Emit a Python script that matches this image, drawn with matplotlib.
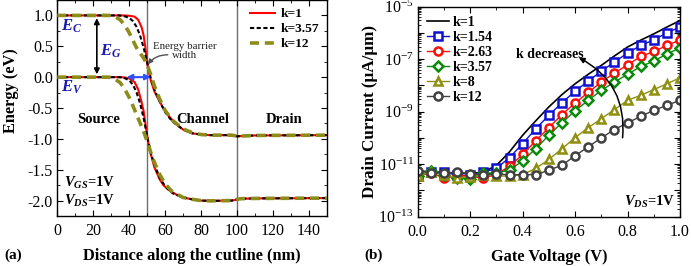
import numpy as np
import matplotlib
matplotlib.use('Agg')
import matplotlib.pyplot as plt
from matplotlib.ticker import MultipleLocator, FixedLocator, FuncFormatter

plt.rcParams['font.family'] = ['Liberation Serif', 'DejaVu Serif']
plt.rcParams['mathtext.fontset'] = 'custom'
plt.rcParams['mathtext.rm'] = 'Liberation Serif'
plt.rcParams['mathtext.it'] = 'Liberation Serif:italic:bold'
plt.rcParams['mathtext.bf'] = 'Liberation Serif:bold'

# ---- panel (a): band diagram along the cutline ----
x_k1 = [0, 36, 40, 43, 45, 47, 48, 49, 50, 51, 52, 54, 57, 59, 62, 66, 70, 75, 80, 85, 97, 99, 100, 102, 110, 150]
ec_k1 = [1.0, 1.0, 0.995, 0.98, 0.93, 0.8, 0.68, 0.48, 0.23, 0.07, -0.05, -0.23, -0.4, -0.5, -0.63, -0.76, -0.85, -0.91, -0.93, -0.94, -0.94, -0.95, -0.96, -0.955, -0.945, -0.94]
ev_k1 = [0.0, 0.0, -0.02, -0.08, -0.2, -0.42, -0.55, -0.75, -0.95, -1.12, -1.25, -1.46, -1.66, -1.75, -1.83, -1.9, -1.95, -1.98, -2.0, -2.005, -2.0, -1.99, -1.98, -1.97, -1.965, -1.96]

x_k357 = [0, 34, 37, 40, 42, 44, 46, 48, 50, 52, 54, 57, 60, 64, 70, 75, 80, 85, 97, 99, 100, 102, 110, 150]
ec_k357 = [1.0, 1.0, 0.99, 0.96, 0.91, 0.82, 0.68, 0.48, 0.24, -0.02, -0.2, -0.4, -0.57, -0.72, -0.85, -0.91, -0.93, -0.94, -0.94, -0.95, -0.96, -0.955, -0.945, -0.94]
ev_k357 = [0.0, 0.0, -0.01, -0.05, -0.12, -0.24, -0.42, -0.66, -0.96, -1.22, -1.42, -1.63, -1.77, -1.88, -1.95, -1.98, -2.0, -2.005, -2.0, -1.99, -1.98, -1.97, -1.965, -1.96]

x_k12 = [0, 29, 32, 35, 38, 40, 42, 44, 46, 48, 50, 52, 54, 57, 60, 64, 70, 75, 80, 85, 97, 99, 100, 102, 110, 150]
ec_k12 = [1.0, 1.0, 0.98, 0.93, 0.82, 0.72, 0.6, 0.48, 0.39, 0.31, 0.2, 0.04, -0.14, -0.36, -0.54, -0.7, -0.84, -0.9, -0.93, -0.94, -0.94, -0.95, -0.96, -0.955, -0.945, -0.94]
ev_k12 = [0.0, 0.0, -0.03, -0.09, -0.22, -0.33, -0.46, -0.6, -0.74, -0.88, -1.04, -1.22, -1.38, -1.58, -1.73, -1.86, -1.95, -1.98, -2.0, -2.005, -2.0, -1.99, -1.98, -1.97, -1.965, -1.96]

# ---- panel (b): transfer characteristics (log10 of drain current, uA/um) ----
vg = [0.0, 0.05, 0.1, 0.15, 0.2, 0.25, 0.3, 0.35, 0.4, 0.45, 0.5, 0.55, 0.6, 0.65, 0.7, 0.75, 0.8, 0.85, 0.9, 0.95, 1.0]
log_id_k1 = [-11.25, -11.3, -11.33, -11.32, -11.36, -11.3, -11.05, -10.53, -9.9, -9.35, -8.82, -8.35, -7.94, -7.58, -7.24, -6.88, -6.54, -6.28, -6.04, -5.78, -5.53]
log_id_k154 = [-11.45, -11.3, -11.3, -11.42, -11.42, -11.3, -11.16, -10.75, -10.22, -9.65, -9.14, -8.66, -8.22, -7.84, -7.46, -7.11, -6.77, -6.48, -6.27, -6.0, -5.78]
log_id_k263 = [-11.45, -11.33, -11.52, -11.45, -11.45, -11.54, -11.38, -11.08, -10.63, -10.11, -9.61, -9.11, -8.67, -8.27, -7.87, -7.53, -7.22, -6.9, -6.71, -6.48, -6.27]
log_id_k357 = [-11.45, -11.25, -11.42, -11.52, -11.57, -11.35, -11.33, -11.23, -10.87, -10.41, -9.9, -9.42, -8.97, -8.57, -8.19, -7.87, -7.58, -7.28, -7.08, -6.8, -6.58]
log_id_k8 = [-11.45, -11.3, -11.4, -11.52, -11.48, -11.4, -11.45, -11.45, -11.4, -11.16, -10.82, -10.41, -9.99, -9.61, -9.27, -8.92, -8.57, -8.38, -8.16, -7.94, -7.71]
log_id_k12 = [-11.25, -11.33, -11.35, -11.3, -11.38, -11.4, -11.38, -11.4, -11.4, -11.4, -11.23, -11.04, -10.68, -10.34, -10.0, -9.68, -9.43, -9.18, -8.95, -8.76, -8.57]

olive_a = '#8c8c1a'

fig = plt.figure(figsize=(6.91, 2.66), dpi=100)
ax1 = fig.add_axes([0.0829, 0.188, 0.3903, 0.812])
ax2 = fig.add_axes([0.6045, 0.1853, 0.3796, 0.790])

fs_tick = 11.5
fs_lab = 11.8

# panel (a)
ax1.axvline(50, color='#707070', lw=1.0, zorder=1)
ax1.axvline(100, color='#707070', lw=1.0, zorder=1)
ax1.plot(x_k1, ec_k1, color='red', lw=1.5, label='k=1', zorder=3)
ax1.plot(x_k1, ev_k1, color='red', lw=1.5, zorder=3)
ax1.plot(x_k357, ec_k357, color='black', lw=1.5, ls=(0, (2, 1.2)), label='k=3.57', zorder=4)
ax1.plot(x_k357, ev_k357, color='black', lw=1.5, ls=(0, (2, 1.2)), zorder=4)
ax1.plot(x_k12, ec_k12, color=olive_a, lw=2.6, ls=(0, (2.5, 1.6)), label='k=12', zorder=5)
ax1.plot(x_k12, ev_k12, color=olive_a, lw=2.6, ls=(0, (2.5, 1.6)), zorder=5)

ax1.set_xlim(0, 150)
ax1.set_ylim(-2.25, 1.25)
ax1.xaxis.set_major_locator(MultipleLocator(20))
ax1.xaxis.set_minor_locator(MultipleLocator(10))
ax1.yaxis.set_major_locator(MultipleLocator(0.5))
ax1.yaxis.set_minor_locator(MultipleLocator(0.25))
ax1.yaxis.set_major_formatter(FuncFormatter(lambda v, p: '%.1f' % v))

ax1.annotate('', xy=(22, 0.0), xytext=(22, 1.0),
             arrowprops=dict(arrowstyle='<|-|>', color='black', lw=1.2, mutation_scale=8), zorder=6)
ax1.annotate('', xy=(37, 0.0), xytext=(53.5, 0.0),
             arrowprops=dict(arrowstyle='<|-|>', color='#3050ff', lw=1.5, mutation_scale=8), zorder=6)
ax1.annotate('', xy=(49.5, 0.17), xytext=(63, 0.36),
             arrowprops=dict(arrowstyle='-|>', color='#505050', lw=1.0, mutation_scale=7,
                             connectionstyle='arc3,rad=0.3'), zorder=6)
ax1.text(71, 0.42, 'Energy barrier\nwidth', fontsize=7.8, ha='center', va='center',
         linespacing=0.95, color='#222222')
ax1.text(2, 0.83, '$E_C$', fontsize=12, color='#1a1ab0', va='center')
ax1.text(2, -0.17, '$E_V$', fontsize=12, color='#1a1ab0', va='center')
ax1.text(24, 0.42, '$E_G$', fontsize=12, color='#1a1ab0', va='center')
ax1.text(23, -0.68, 'Source', fontsize=10.5, fontweight='bold', ha='center', va='center')
ax1.text(81, -0.68, 'Channel', fontsize=10.5, fontweight='bold', ha='center', va='center')
ax1.text(126, -0.68, 'Drain', fontsize=10.5, fontweight='bold', ha='center', va='center')
ax1.text(4, -1.72, '$V_{GS}$=1V', fontsize=10.5, fontweight='bold', va='center')
ax1.text(4, -2.0, '$V_{DS}$=1V', fontsize=10.5, fontweight='bold', va='center')

ax1.legend(loc='upper right', frameon=False, handlelength=1.9,
           handletextpad=0.4, labelspacing=0.2, borderaxespad=0.2,
           prop={'weight': 'bold', 'size': 9.6})
ax1.set_xlabel('Distance along the cutline (nm)', fontsize=fs_lab, fontweight='bold', labelpad=6.5)
ax1.set_ylabel('Energy (eV)', fontsize=fs_lab, fontweight='bold', va='center')
ax1.yaxis.set_label_coords(-0.17, 0.58)

# panel (b)
ax2.plot(vg, 10 ** np.array(log_id_k1), color='black', lw=1.2, label='k=1')
series_b = [
    (log_id_k154, '#1010d0', 's', 'k=1.54'),
    (log_id_k263, '#ff0a0a', 'o', 'k=2.63'),
    (log_id_k357, '#0a8a0a', 'D', 'k=3.57'),
    (log_id_k8, '#8f8f10', '^', 'k=8'),
    (log_id_k12, '#404040', 'o', 'k=12'),
]
for vals, col, mk, lab in series_b:
    ms = 5.0 if mk == 'D' else 5.8
    ax2.plot(vg, 10 ** np.array(vals), color=col, lw=1.0, marker=mk, ms=ms,
             mfc='white', mec=col, mew=1.8, label=lab)

ax2.set_yscale('log')
ax2.set_xlim(0, 1.0)
ax2.set_ylim(1e-13, 1e-5)
ax2.xaxis.set_major_locator(MultipleLocator(0.2))
ax2.xaxis.set_minor_locator(MultipleLocator(0.1))
ax2.xaxis.set_major_formatter(FuncFormatter(lambda v, p: '%.1f' % v))
decades = [10.0 ** e for e in range(-13, -4)]
ax2.yaxis.set_major_locator(FixedLocator(decades))
minor = [m * 10.0 ** e for e in range(-13, -5) for m in range(2, 10)]
ax2.yaxis.set_minor_locator(FixedLocator(minor))
ax2.yaxis.set_major_formatter(FuncFormatter(
    lambda v, p: ('$10^{%d}$' % round(np.log10(v))) if round(np.log10(v)) % 2 else ''))

ax2.annotate('', xy=(0.605, 10 ** -6.9), xytext=(0.78, 10 ** -10.1),
             arrowprops=dict(arrowstyle='-|>', color='black', lw=1.1, mutation_scale=8,
                             connectionstyle='arc3,rad=0.35'))
ax2.text(0.375, 10 ** -6.82, 'k decreases', fontsize=10, fontweight='bold', va='center')
ax2.text(0.98, 10 ** -12.45, '$V_{DS}$=1V', fontsize=10.5, fontweight='bold', va='center', ha='right')

ax2.legend(loc='upper left', frameon=False, handlelength=1.6, handletextpad=0.3,
           labelspacing=0.15, borderaxespad=0.25, prop={'weight': 'bold', 'size': 10})
ax2.set_xlabel('Gate Voltage (V)', fontsize=fs_lab, fontweight='bold', labelpad=6.5)
ax2.set_ylabel('Drain Current (\u03bcA/\u03bcm)', fontsize=fs_lab + 0.5, fontweight='bold', labelpad=0)

for ax in (ax1, ax2):
    ax.tick_params(which='both', direction='in', top=True, right=True, labelsize=fs_tick)
    ax.tick_params(which='major', length=4, width=0.8, pad=3)
    ax.tick_params(which='minor', length=2, width=0.6)
    ax.tick_params(axis='x', which='major', pad=5)
    for s in ax.spines.values():
        s.set_linewidth(1.0)

fig.text(0.007, 0.04, '(a)', fontsize=11, fontweight='bold', va='center')
fig.text(0.528, 0.04, '(b)', fontsize=11, fontweight='bold', va='center')

fig.savefig('out.png', dpi=100)
